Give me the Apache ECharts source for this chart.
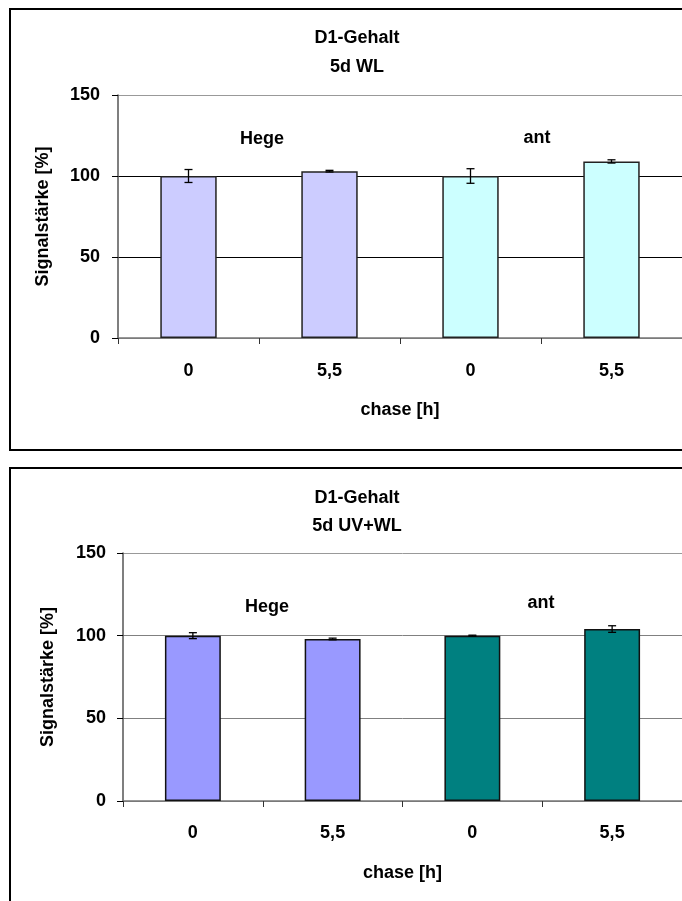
<!DOCTYPE html>
<html>
<head>
<meta charset="utf-8">
<script src="https://cdn.jsdelivr.net/npm/echarts@6/dist/echarts.min.js"></script>
<style>
  html, body { margin: 0; padding: 0; background: #fff; }
  #main { width: 682px; height: 901px; }
</style>
</head>
<body>
<div id="main"></div>
<script>
// values
const categories = ['0', '5,5', '0', '5,5'];
const yTicks = [0, 50, 100, 150];
const wlValues = [100, 103, 100, 109];
const wlErrors = [4, 0.5, 4.5, 1];
const uvValues = [100, 98, 100, 104];
const uvErrors = [1.8, 0.5, 0.3, 2];

const FONT = '"Liberation Sans", Arial, sans-serif';
const FS = 18;
const chart = echarts.init(document.getElementById('main'));

function errData(vals, errs) {
    return vals.map((v, i) => [i, v, errs[i]]);
}

function errRender(params, api) {
    const i = api.value(0), v = api.value(1), e = api.value(2);
    const hi = api.coord([i, v + e]);
    const lo = api.coord([i, v - e]);
    const w = 4;
    const style = { stroke: '#000', lineWidth: 1.3 };
    return {
        type: 'group',
        children: [
            { type: 'line', shape: { x1: hi[0], y1: hi[1], x2: lo[0], y2: lo[1] }, style: style },
            { type: 'line', shape: { x1: hi[0] - w, y1: hi[1], x2: hi[0] + w, y2: hi[1] }, style: style },
            { type: 'line', shape: { x1: lo[0] - w, y1: lo[1], x2: lo[0] + w, y2: lo[1] }, style: style }
        ]
    };
}

function xAxisCfg(idx, gap, margin) {
    return {
        type: 'category', gridIndex: idx, data: categories,
        name: 'chase [h]', nameLocation: 'middle', nameGap: gap,
        nameTextStyle: { fontFamily: FONT, fontWeight: 'bold', fontSize: FS, color: '#000' },
        axisLine: { lineStyle: { color: '#777', width: 1.5 } },
        axisTick: { show: true, alignWithLabel: false, length: 6, lineStyle: { color: '#333' } },
        axisLabel: { fontFamily: FONT, fontWeight: 'bold', fontSize: FS, color: '#000', margin: margin },
        splitLine: { show: false }
    };
}

function yAxisCfg(idx, gridColors, margin, gap) {
    return {
        type: 'value', gridIndex: idx, min: yTicks[0], max: yTicks[yTicks.length - 1], interval: 50,
        name: 'Signalstärke [%]', nameLocation: 'middle', nameGap: gap, nameRotate: 90,
        nameTextStyle: { fontFamily: FONT, fontWeight: 'bold', fontSize: FS, color: '#000' },
        axisLine: { show: true, lineStyle: { color: '#555', width: 1.5 } },
        axisTick: { show: true, length: 6, lineStyle: { color: '#000' } },
        axisLabel: { fontFamily: FONT, fontWeight: 'bold', fontSize: FS, color: '#000', margin: margin },
        splitLine: { show: true, lineStyle: { color: gridColors, width: 1 } }
    };
}

const topColors = ['#CCCCFF', '#CCCCFF', '#CCFFFF', '#CCFFFF'];
const botColors = ['#9999FF', '#9999FF', '#008080', '#008080'];

function groupLabel(text, x, y) {
    return { type: 'text', x: x, y: y, style: { text: text, fontFamily: FONT, fontWeight: 'bold', fontSize: FS,
             fill: '#000', textAlign: 'center', textVerticalAlign: 'middle' } };
}

chart.setOption({
    animation: false,
    backgroundColor: '#fff',
    title: [
        { text: 'D1-Gehalt\n5d WL', left: 352, top: 19, textAlign: 'center',
          textStyle: { fontFamily: FONT, fontWeight: 'bold', fontSize: FS, color: '#000', lineHeight: 29 } },
        { text: 'D1-Gehalt\n5d UV+WL', left: 352, top: 479, textAlign: 'center',
          textStyle: { fontFamily: FONT, fontWeight: 'bold', fontSize: FS, color: '#000', lineHeight: 28 } }
    ],
    grid: [
        { left: 118, top: 95, width: 568, height: 243 },
        { left: 123, top: 553, width: 564, height: 248 }
    ],
    xAxis: [xAxisCfg(0, 63, 24), xAxisCfg(1, 63, 23)],
    yAxis: [
        yAxisCfg(0, ['#888', '#000', '#000', '#999'], 18, 66),
        yAxisCfg(1, ['#808080', '#808080', '#808080', '#999'], 17, 66)
    ],
    graphic: [
        { type: 'rect', shape: { x: 10, y: 9, width: 700, height: 441 },
          style: { fill: 'none', stroke: '#000', lineWidth: 2 } },
        { type: 'rect', shape: { x: 10, y: 468, width: 700, height: 460 },
          style: { fill: 'none', stroke: '#000', lineWidth: 2 } },
        groupLabel('Hege', 262, 139),
        groupLabel('ant', 537, 138),
        groupLabel('Hege', 267, 607),
        groupLabel('ant', 541, 603)
    ],
    series: [
        { type: 'bar', xAxisIndex: 0, yAxisIndex: 0, data: wlValues, barWidth: '40%',
          itemStyle: { color: p => topColors[p.dataIndex], borderColor: '#222', borderWidth: 1.5 } },
        { type: 'custom', xAxisIndex: 0, yAxisIndex: 0, data: errData(wlValues, wlErrors),
          renderItem: errRender, encode: { x: 0, y: 1 }, z: 5 },
        { type: 'bar', xAxisIndex: 1, yAxisIndex: 1, data: uvValues, barWidth: '40%',
          itemStyle: { color: p => botColors[p.dataIndex], borderColor: '#111', borderWidth: 1.5 } },
        { type: 'custom', xAxisIndex: 1, yAxisIndex: 1, data: errData(uvValues, uvErrors),
          renderItem: errRender, encode: { x: 0, y: 1 }, z: 5 }
    ]
});
</script>
</body>
</html>
